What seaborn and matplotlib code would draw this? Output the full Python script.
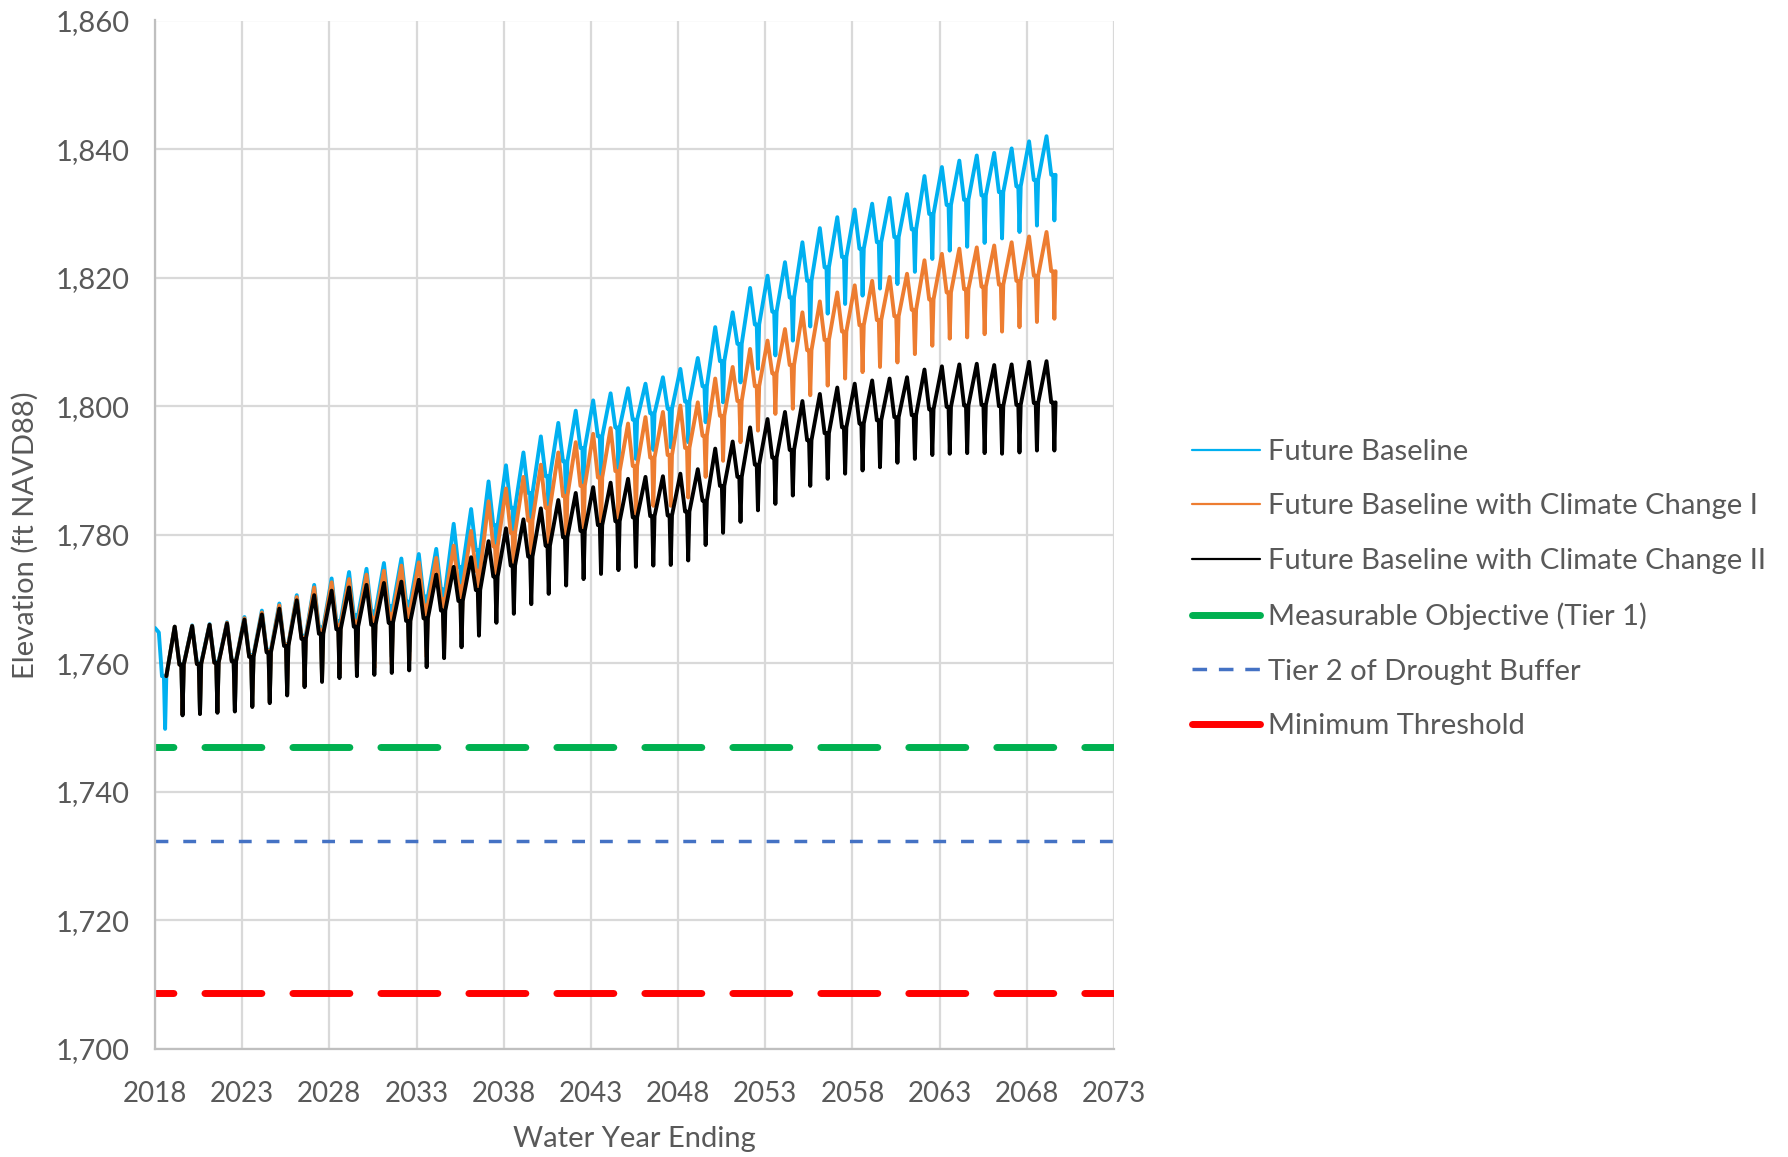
import numpy as np
import pandas as pd
import matplotlib
matplotlib.use("Agg")
import matplotlib.pyplot as plt
from matplotlib.lines import Line2D
from matplotlib.ticker import MultipleLocator, FixedLocator, FuncFormatter
import seaborn as sns

nan = np.nan

# Water years of the simulation record
water_years = list(range(2018, 2070))

series_names = [
    "Future Baseline",
    "Future Baseline with Climate Change I",
    "Future Baseline with Climate Change II",
]

# Start of each record (decimal year, ft NAVD88)
fb_head_t = [2018.00, 2018.22]
fb_head_elev = [1765.5, 1764.8]
cc1_head_t = [2018.65]
cc1_head_elev = [1758.0]
cc2_head_t = [2018.65]
cc2_head_elev = [1758.0]

# Annual high, mid-season level and seasonal low for each water year (ft NAVD88)
fb_peak = [nan, 1765.7, 1765.9, 1766.1, 1766.4, 1767.2, 1768.2, 1769.3, 1770.6, 1772.2, 1773.2,
           1774.2, 1774.7, 1775.6, 1776.3, 1777.0, 1777.8, 1781.7, 1784.0, 1788.3, 1790.8,
           1792.8, 1795.3, 1797.4, 1799.3, 1800.9, 1802.0, 1802.8, 1803.5, 1804.5, 1805.8,
           1807.5, 1812.3, 1814.6, 1818.4, 1820.3, 1822.4, 1825.5, 1827.7, 1829.4, 1830.6,
           1831.5, 1832.4, 1833.0, 1835.8, 1837.2, 1838.2, 1839.0, 1839.4, 1840.1, 1841.2,
           1842.0]
fb_mid = [1758.0, 1759.9, 1760.1, 1760.3, 1760.5, 1761.3, 1762.1, 1763.0, 1764.3, 1765.6, 1766.6,
          1767.5, 1768.1, 1768.9, 1769.6, 1770.4, 1771.5, 1775.0, 1777.6, 1781.5, 1784.2,
          1786.5, 1789.1, 1791.4, 1793.5, 1795.3, 1796.7, 1797.9, 1798.9, 1799.6, 1800.7,
          1803.1, 1807.0, 1809.7, 1812.7, 1814.7, 1816.9, 1819.5, 1821.6, 1823.2, 1824.5,
          1825.5, 1826.3, 1827.5, 1829.9, 1831.3, 1832.1, 1832.8, 1833.3, 1834.2, 1835.2,
          1836.0]
fb_low = [1749.8, 1752.0, 1752.2, 1752.4, 1752.6, 1753.4, 1754.2, 1755.3, 1756.6, 1757.8, 1758.8,
          1759.6, 1760.3, 1761.0, 1761.8, 1762.6, 1764.0, 1767.0, 1770.0, 1773.5, 1776.5,
          1779.0, 1781.8, 1784.2, 1786.5, 1788.5, 1790.3, 1791.8, 1793.2, 1793.6, 1794.4,
          1797.5, 1800.6, 1803.7, 1805.8, 1807.9, 1810.2, 1812.4, 1814.4, 1815.9, 1817.2,
          1818.3, 1819.0, 1820.9, 1822.9, 1824.2, 1824.8, 1825.4, 1826.1, 1827.1, 1828.1,
          1828.9]

cc1_peak = [nan, 1765.7, 1765.8, 1766.0, 1766.3, 1767.0, 1767.9, 1769.0, 1770.3, 1771.8, 1772.6,
            1773.1, 1773.8, 1774.4, 1775.2, 1775.7, 1776.4, 1778.3, 1780.6, 1785.2, 1787.2,
            1789.0, 1790.9, 1792.8, 1794.4, 1795.7, 1796.6, 1797.3, 1798.3, 1799.1, 1800.1,
            1800.6, 1804.3, 1806.1, 1808.9, 1810.2, 1812.0, 1814.6, 1816.3, 1817.7, 1818.8,
            1819.5, 1820.1, 1820.6, 1822.7, 1823.7, 1824.5, 1824.7, 1825.0, 1825.5, 1826.4,
            1827.1]
cc1_mid = [nan, 1759.8, 1759.9, 1760.1, 1760.4, 1761.1, 1761.9, 1762.9, 1764.0, 1765.2, 1766.0,
           1766.5, 1767.1, 1767.7, 1768.4, 1769.0, 1770.0, 1772.0, 1774.4, 1778.2, 1780.3,
           1782.2, 1784.2, 1786.0, 1787.6, 1788.9, 1789.9, 1790.7, 1792.0, 1792.4, 1793.5,
           1795.4, 1798.5, 1800.8, 1803.1, 1805.1, 1806.4, 1808.7, 1810.3, 1811.6, 1812.6,
           1813.4, 1814.0, 1815.0, 1816.6, 1817.7, 1818.2, 1818.6, 1818.9, 1819.5, 1820.3,
           1821.0]
cc1_low = [nan, 1752.0, 1752.2, 1752.4, 1752.6, 1753.3, 1754.0, 1755.2, 1756.5, 1757.5, 1758.3,
           1758.8, 1759.3, 1759.8, 1760.4, 1761.0, 1762.2, 1764.5, 1767.0, 1770.0, 1772.3,
           1774.3, 1776.3, 1778.0, 1779.6, 1780.9, 1782.0, 1783.0, 1784.5, 1784.5, 1785.8,
           1789.0, 1791.5, 1794.4, 1796.2, 1798.8, 1799.6, 1801.7, 1803.2, 1804.3, 1805.3,
           1806.1, 1806.8, 1808.1, 1809.4, 1810.5, 1810.7, 1811.2, 1811.6, 1812.3, 1813.1,
           1813.6]

cc2_peak = [nan, 1765.7, 1765.8, 1766.0, 1766.2, 1766.8, 1767.6, 1768.5, 1769.8, 1770.6, 1771.3,
            1771.8, 1772.2, 1772.5, 1772.7, 1773.0, 1773.8, 1775.0, 1776.5, 1779.0, 1781.0,
            1782.4, 1784.1, 1785.4, 1786.5, 1787.4, 1788.1, 1788.7, 1789.0, 1789.1, 1789.5,
            1790.2, 1793.4, 1794.5, 1796.7, 1798.0, 1799.1, 1800.8, 1801.9, 1802.9, 1803.5,
            1804.0, 1804.3, 1804.5, 1805.7, 1806.2, 1806.5, 1806.6, 1806.4, 1806.5, 1806.9,
            1807.0]
cc2_mid = [nan, 1759.8, 1759.9, 1760.1, 1760.3, 1761.0, 1761.7, 1762.7, 1763.8, 1764.6, 1765.3,
           1765.7, 1766.0, 1766.3, 1766.6, 1767.0, 1768.2, 1769.7, 1771.4, 1773.5, 1775.2,
           1776.6, 1778.3, 1779.6, 1780.6, 1781.5, 1782.1, 1782.7, 1782.9, 1783.0, 1783.6,
           1785.3, 1787.6, 1789.0, 1790.9, 1792.0, 1793.2, 1794.7, 1795.8, 1796.7, 1797.3,
           1797.8, 1798.3, 1798.6, 1799.5, 1799.9, 1800.1, 1800.2, 1800.0, 1800.2, 1800.5,
           1800.6]
cc2_low = [nan, 1751.9, 1752.1, 1752.3, 1752.5, 1753.2, 1753.8, 1755.0, 1756.3, 1757.1, 1757.7,
           1758.0, 1758.2, 1758.5, 1758.9, 1759.4, 1760.8, 1762.5, 1764.3, 1766.3, 1767.7,
           1769.2, 1770.8, 1772.1, 1773.1, 1773.9, 1774.5, 1775.0, 1775.2, 1775.3, 1776.0,
           1778.4, 1780.3, 1782.0, 1783.8, 1784.8, 1786.1, 1787.6, 1788.7, 1789.5, 1790.0,
           1790.5, 1791.2, 1791.8, 1792.4, 1792.6, 1792.7, 1792.7, 1792.6, 1792.8, 1793.1,
           1793.1]

# Groundwater-level thresholds (ft NAVD88)
measurable_objective = 1747.0
tier2_drought_buffer = 1732.4
minimum_threshold = 1708.7

# Axis ticks
x_ticks = list(range(2018, 2074, 5))
y_ticks = list(range(1700, 1861, 20))

colors = {
    series_names[0]: "#00B0F0",
    series_names[1]: "#ED7D31",
    series_names[2]: "#000000",
}
GREEN, TIER2_BLUE, RED = "#00B050", "#4472C4", "#FF0000"
TEXT = "#595959"


def seasonal_trace(head_t, head_v, peak, mid, low):
    """Expand annual high / mid / low levels into a seasonal hydrograph."""
    t, v = list(head_t), list(head_v)
    for yr, p, m, lo in zip(water_years, peak, mid, low):
        for frac, val in ((0.13, p), (0.40, m), (0.51, m), (0.58, lo), (0.65, m)):
            if not np.isnan(val) and yr + frac > t[-1]:
                t.append(yr + frac)
                v.append(val)
    return t, v


frames = []
for name, args in zip(series_names, [
        (fb_head_t, fb_head_elev, fb_peak, fb_mid, fb_low),
        (cc1_head_t, cc1_head_elev, cc1_peak, cc1_mid, cc1_low),
        (cc2_head_t, cc2_head_elev, cc2_peak, cc2_mid, cc2_low)]):
    t, v = seasonal_trace(*args)
    frames.append(pd.DataFrame({"year": t, "elev": v, "series": name}))
hydro = pd.concat(frames, ignore_index=True)

sns.set_theme(style="white")
plt.rcParams["font.family"] = ["Lato", "DejaVu Sans"]

fig = plt.figure(figsize=(17.88, 11.57), dpi=100)
ax = fig.add_axes([155 / 1788, 1 - 1049 / 1157, (1114 - 155) / 1788, (1049 - 20.5) / 1157])

# Threshold lines
ax.axhline(measurable_objective, color=GREEN, lw=5.0,
           linestyle=(5.55, (8.2, 4.47)), dash_capstyle="round", zorder=2)
ax.axhline(tier2_drought_buffer, color=TIER2_BLUE, lw=2.5,
           linestyle=(0, (3.7, 4.3)), dash_capstyle="butt", zorder=2)
ax.axhline(minimum_threshold, color=RED, lw=5.0,
           linestyle=(5.55, (8.2, 4.47)), dash_capstyle="round", zorder=2)

sns.lineplot(data=hydro, x="year", y="elev", hue="series", hue_order=series_names,
             palette=colors, sort=False, estimator=None, linewidth=2.8,
             legend=False, ax=ax, zorder=3)

ax.set_xlim(2018, 2073)
ax.set_ylim(1700, 1860)
ax.xaxis.set_major_locator(FixedLocator(x_ticks))
ax.xaxis.set_minor_locator(MultipleLocator(1))
ax.yaxis.set_major_locator(FixedLocator(y_ticks))
ax.yaxis.set_minor_locator(MultipleLocator(4))
ax.yaxis.set_major_formatter(FuncFormatter(lambda v, _: f"{v:,.0f}"))
ax.xaxis.set_major_formatter(FuncFormatter(lambda v, _: f"{v:.0f}"))

ax.grid(which="major", color="#d9d9d9", lw=1.6)
ax.set_axisbelow(True)
for side in ("top", "right"):
    ax.spines[side].set_visible(False)
for side in ("left", "bottom"):
    ax.spines[side].set_color("#bfbfbf")
    ax.spines[side].set_linewidth(1.6)

ax.tick_params(axis="both", which="both", direction="out", color="#bfbfbf",
               length=5, width=1.0, labelcolor=TEXT)
ax.tick_params(axis="y", which="both", pad=13, labelsize=21)
ax.tick_params(axis="x", which="both", pad=18, labelsize=20)

ax.set_xlabel("Water Year Ending", fontsize=21, color=TEXT, labelpad=14)
ax.set_ylabel("Elevation (ft NAVD88)", fontsize=21, color=TEXT, labelpad=12)

handles = [
    Line2D([], [], color=colors[series_names[0]], lw=1.6),
    Line2D([], [], color=colors[series_names[1]], lw=1.6),
    Line2D([], [], color=colors[series_names[2]], lw=1.6),
    Line2D([], [], color=GREEN, lw=5.0, solid_capstyle="round"),
    Line2D([], [], color=TIER2_BLUE, lw=2.5, linestyle=(0, (4.2, 3.4))),
    Line2D([], [], color=RED, lw=5.0, solid_capstyle="round"),
]
labels = series_names + ["Measurable Objective (Tier 1)", "Tier 2 of Drought Buffer",
                         "Minimum Threshold"]
fig.legend(handles, labels, loc="center left", bbox_to_anchor=(1192 / 1788, 1 - 589 / 1157),
           frameon=False, fontsize=21, labelcolor=TEXT, handlelength=2.33,
           handletextpad=0.28, labelspacing=0.98, borderpad=0, borderaxespad=0)

fig.savefig("out.png", dpi=100)
